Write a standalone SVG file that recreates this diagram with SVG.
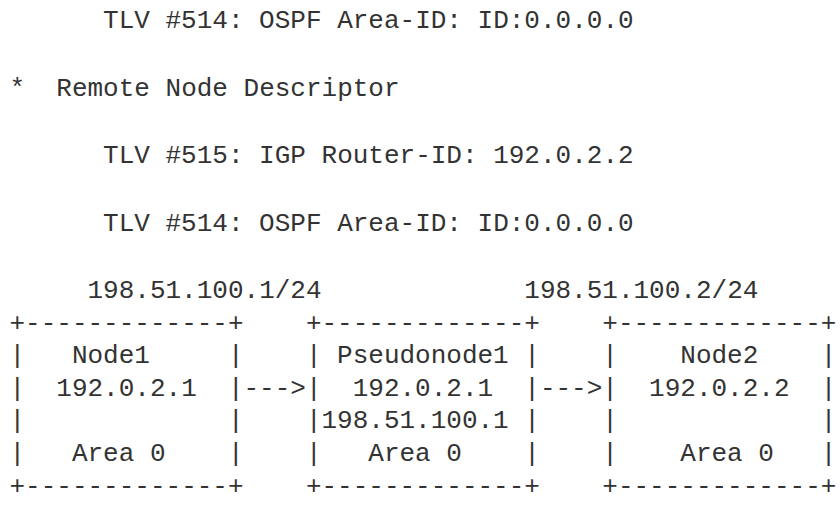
<svg xmlns="http://www.w3.org/2000/svg" width="840" height="514" viewBox="0 0 840 514" xml:space="preserve">
<style>
.t{font-family:"Liberation Mono","DejaVu Sans Mono",monospace;font-size:26px;fill:#333;white-space:pre}
</style>
<rect width="840" height="514" fill="#fff"/>
<g id="header">
<text class="t" x="103.1" y="28">TLV #514: OSPF Area-ID: ID:0.0.0.0</text>
<text class="t" x="9.5" y="95.6">*  Remote Node Descriptor</text>
<text class="t" x="103.1" y="163.2">TLV #515: IGP Router-ID: 192.0.2.2</text>
<text class="t" x="103.1" y="230.8">TLV #514: OSPF Area-ID: ID:0.0.0.0</text>
</g>
<g id="node1">
<text class="t" x="9.5" y="330.6">+-------------+</text>
<text class="t" x="9.5" y="363.2">|   Node1     |</text>
<text class="t" x="9.5" y="395.8">|  192.0.2.1  |</text>
<text class="t" x="9.5" y="428.4">|             |</text>
<text class="t" x="9.5" y="461">|   Area 0    |</text>
<text class="t" x="9.5" y="493.6">+-------------+</text>
</g>
<g id="pseudonode1">
<text class="t" x="305.9" y="330.6">+-------------+</text>
<text class="t" x="305.9" y="363.2">| Pseudonode1 |</text>
<text class="t" x="305.9" y="395.8">|  192.0.2.1  |</text>
<text class="t" x="305.9" y="428.4">|198.51.100.1 |</text>
<text class="t" x="305.9" y="461">|   Area 0    |</text>
<text class="t" x="305.9" y="493.6">+-------------+</text>
</g>
<g id="node2">
<text class="t" x="602.3" y="330.6">+-------------+</text>
<text class="t" x="602.3" y="363.2">|    Node2    |</text>
<text class="t" x="602.3" y="395.8">|  192.0.2.2  |</text>
<text class="t" x="602.3" y="428.4">|             |</text>
<text class="t" x="602.3" y="461">|    Area 0   |</text>
<text class="t" x="602.3" y="493.6">+-------------+</text>
</g>
<g id="connectors">
<text class="t" x="87.5" y="298.4">198.51.100.1/24</text>
<text class="t" x="524.3" y="298.4">198.51.100.2/24</text>
<text class="t" x="243.5" y="395.8">---&gt;</text>
<text class="t" x="539.9" y="395.8">---&gt;</text>
</g>
</svg>
